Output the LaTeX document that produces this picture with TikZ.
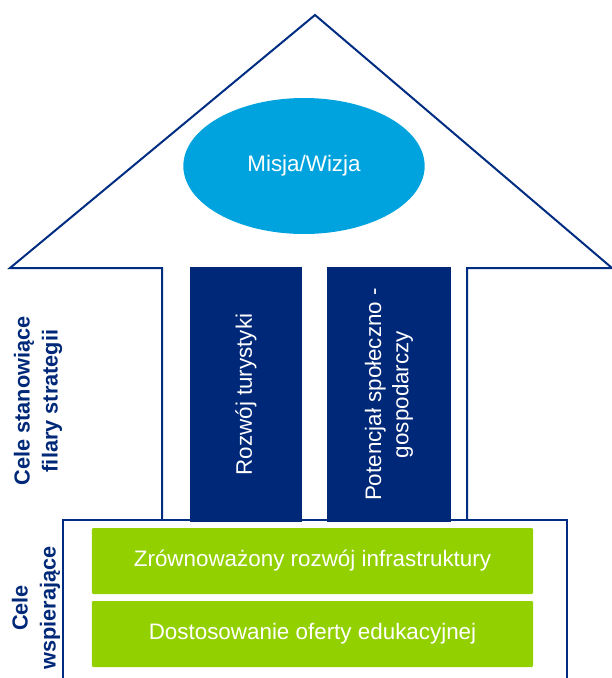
\documentclass[tikz,border=0pt]{standalone}
\usepackage{fontspec}
\setmainfont{Liberation Sans}
\usetikzlibrary{shapes.geometric}
\definecolor{myNavy}{RGB}{0,40,120}
\definecolor{myLine}{RGB}{0,45,130}
\definecolor{mySky}{RGB}{0,163,221}
\definecolor{myLime}{RGB}{146,208,0}
\tikzset{
	outline/.style={draw=myLine, line width=1.5pt, line join=miter},
	pillar/.style={
		fill=myNavy,
		rotate=90,
		align=center,
		inner sep=0pt,
		text=white,
		minimum width=191pt,
		font=\fontsize{16.8}{20.5}\selectfont
	},
	gbox/.style={
		fill=myLime,
		rounded corners=1pt,
		inner sep=0pt,
		text=white,
		minimum width=331pt,
		minimum height=49.5pt,
		font=\fontsize{16.8}{20.5}\selectfont
	},
	sidelbl/.style={
		rotate=90,
		align=center,
		text=myNavy,
		inner sep=0pt,
		font=\bfseries\fontsize{16.3}{21}\selectfont
	}
}

\begin{document}
\begin{tikzpicture}[x=0.75pt, y=-0.75pt]
	\useasboundingbox (0,0) rectangle (611,678);
	% roof and shaft
	\draw[outline] (162,520) -- (162,268) -- (10,268) -- (315,15) -- (612,268) -- (467,268) -- (467,520);
	% base
	\draw[outline] (63,680) -- (63,520) -- (567,520) -- (567,680);
	\node[ellipse, fill=mySky, inner sep=0pt, minimum width=181pt, minimum height=102pt,
		text=white, font=\fontsize{16.8}{20.5}\selectfont] (misja) at (304,166) {Misja/Wizja};
	\node[pillar, minimum height=84pt] (tur) at (246,394.5) {Rozwój turystyki};
	\node[pillar, minimum height=93pt] (pot) at (389,394.5) {Potencjał społeczno -\\gospodarczy};
	\node[gbox] (infra) at (312.5,561) {Zrównoważony rozwój infrastruktury};
	\node[gbox] (edu) at (312.5,634) {Dostosowanie oferty edukacyjnej};
	\node[sidelbl] (filary) at (38,401) {Cele stanowiące\\filary strategii};
	\node[sidelbl] (wsp) at (36,608) {Cele\\wspierające};
\end{tikzpicture}
\end{document}
